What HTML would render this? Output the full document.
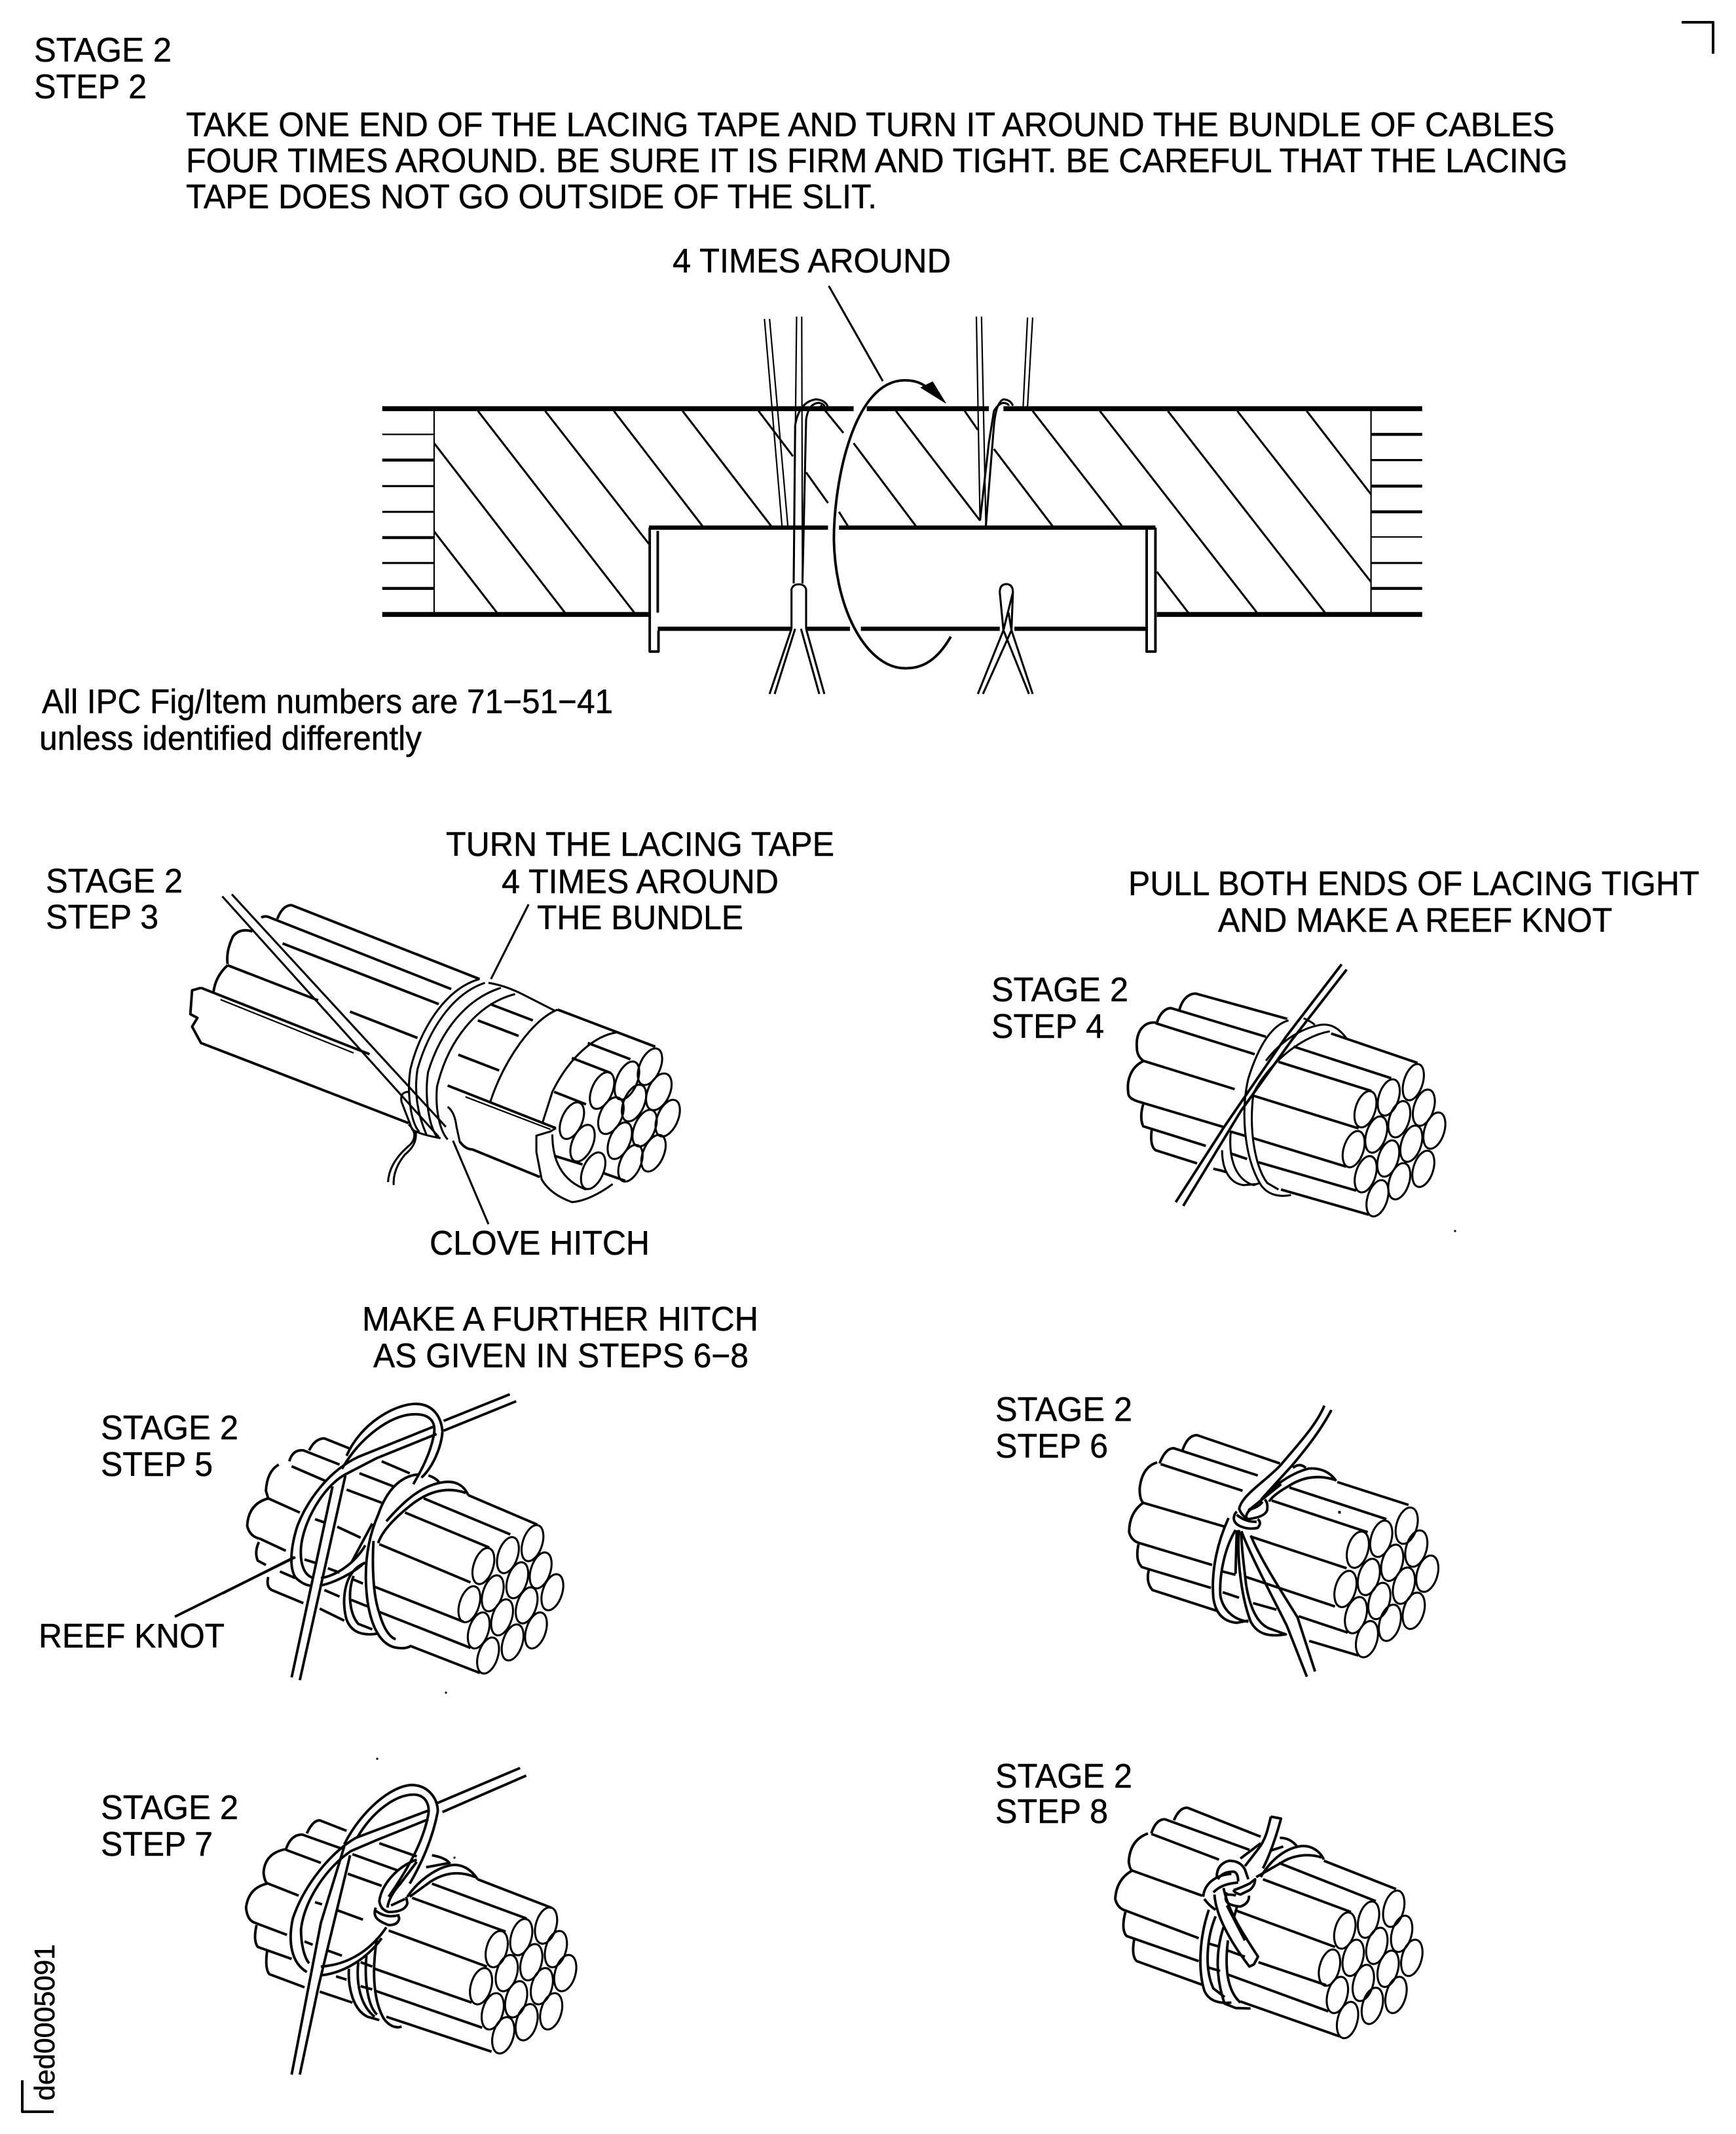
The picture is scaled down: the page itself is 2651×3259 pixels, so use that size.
<!DOCTYPE html>
<html><head><meta charset="utf-8"><style>
html,body{margin:0;padding:0;background:#fff}
svg{display:block}
text{font-family:"Liberation Sans",sans-serif;font-size:52px;fill:#000;stroke:#000;stroke-width:.5}
path,ellipse{fill:none;stroke:#000;stroke-width:3.1;vector-effect:non-scaling-stroke;stroke-linejoin:round}
.t{stroke-width:2.2}.b{stroke-width:7.5}.m{stroke-width:3.9}
.f{fill:#000;stroke-width:1}
</style></head><body>
<svg xmlns="http://www.w3.org/2000/svg" width="2651" height="3259" viewBox="0 0 2651 3259">
<rect width="2651" height="3259" fill="#fff"/>
<g>
<text x="52" y="94" textLength="210" lengthAdjust="spacingAndGlyphs">STAGE 2</text>
<text x="52" y="150" textLength="172" lengthAdjust="spacingAndGlyphs">STEP 2</text>
<text x="284" y="208" textLength="2090" lengthAdjust="spacingAndGlyphs">TAKE ONE END OF THE LACING TAPE AND TURN IT AROUND THE BUNDLE OF CABLES</text>
<text x="284" y="263" textLength="2110" lengthAdjust="spacingAndGlyphs">FOUR TIMES AROUND. BE SURE IT IS FIRM AND TIGHT. BE CAREFUL THAT THE LACING</text>
<text x="284" y="318" textLength="1055" lengthAdjust="spacingAndGlyphs">TAPE DOES NOT GO OUTSIDE OF THE SLIT.</text>
<text x="1027" y="416" textLength="425" lengthAdjust="spacingAndGlyphs">4 TIMES AROUND</text>
<text x="64" y="1089" textLength="872" lengthAdjust="spacingAndGlyphs">All IPC Fig/Item numbers are 71−51−41</text>
<text x="60" y="1145" textLength="584" lengthAdjust="spacingAndGlyphs">unless identified differently</text>
<text x="681" y="1307" textLength="593" lengthAdjust="spacingAndGlyphs">TURN THE LACING TAPE</text>
<text x="766" y="1364" textLength="423" lengthAdjust="spacingAndGlyphs">4 TIMES AROUND</text>
<text x="820" y="1419" textLength="315" lengthAdjust="spacingAndGlyphs">THE BUNDLE</text>
<text x="70" y="1363" textLength="209" lengthAdjust="spacingAndGlyphs">STAGE 2</text>
<text x="70" y="1418" textLength="172" lengthAdjust="spacingAndGlyphs">STEP 3</text>
<text x="1723" y="1367" textLength="872" lengthAdjust="spacingAndGlyphs">PULL BOTH ENDS OF LACING TIGHT</text>
<text x="1860" y="1423" textLength="602" lengthAdjust="spacingAndGlyphs">AND MAKE A REEF KNOT</text>
<text x="1514" y="1529" textLength="209" lengthAdjust="spacingAndGlyphs">STAGE 2</text>
<text x="1514" y="1585" textLength="172" lengthAdjust="spacingAndGlyphs">STEP 4</text>
<text x="656" y="1916" textLength="336" lengthAdjust="spacingAndGlyphs">CLOVE HITCH</text>
<text x="553" y="2032" textLength="605" lengthAdjust="spacingAndGlyphs">MAKE A FURTHER HITCH</text>
<text x="570" y="2088" textLength="573" lengthAdjust="spacingAndGlyphs">AS GIVEN IN STEPS 6−8</text>
<text x="154" y="2198" textLength="210" lengthAdjust="spacingAndGlyphs">STAGE 2</text>
<text x="154" y="2254" textLength="171" lengthAdjust="spacingAndGlyphs">STEP 5</text>
<text x="1520" y="2170" textLength="209" lengthAdjust="spacingAndGlyphs">STAGE 2</text>
<text x="1520" y="2226" textLength="172" lengthAdjust="spacingAndGlyphs">STEP 6</text>
<text x="59" y="2516" textLength="284" lengthAdjust="spacingAndGlyphs">REEF KNOT</text>
<text x="154" y="2778" textLength="210" lengthAdjust="spacingAndGlyphs">STAGE 2</text>
<text x="154" y="2834" textLength="171" lengthAdjust="spacingAndGlyphs">STEP 7</text>
<text x="1520" y="2730" textLength="209" lengthAdjust="spacingAndGlyphs">STAGE 2</text>
<text x="1520" y="2784" textLength="172" lengthAdjust="spacingAndGlyphs">STEP 8</text>
<text transform="translate(83,3208) rotate(-90)" textLength="239" lengthAdjust="spacingAndGlyphs" style="font-size:44px">ded0005091</text>
</g>
<path class="m" d="M34 3177V3225H82M2568 34H2616V82" style="stroke-width:4"/>
<path class="m" d="M267 2469L451 2378"/>
<path class="f" d="M2221 1879h2v2h-2zM680 2584h2v2h-2zM2044 2308h3v3h-3zM575 2685h2v2h-2zM693 2836h2v2h-2z"/>

<!-- Step 2 section -->
<g transform="translate(500,400) scale(1.116,.4464)">
<path class="b" d="M75 502H720M738 502H905M925 502H1498M75 1206H440M1135 1206H1498"/>
<path class="t" d="M146 502V1206M1428 502V1206"/>
<path class="t" d="M75 590H146M1428 941H1498"/>
<path class="b" style="stroke-width:4.5" d="M75 678H146M75 943H146M75 1117H146M1428 590H1498M1428 767H1498M1428 855H1498M1428 1117H1498"/>
<path class="m" style="stroke-width:3.2" d="M75 767H146M75 855H146M75 1030H146M1428 678H1498M1428 1030H1498"/>
<path d="M146 620L325 1200M146 922L232 1200M206 510L420 1200M298 510L440 965M392 510L513 903M486 510L607 903M590 510L637 665M655 720L685 825M700 855L712 903M675 490L706 585M720 620L805 903M778 510L893 885M872 510L890 575M912 640L992 903M965 510L1087 903M1135 1060L1178 1200M1057 510L1272 1200M1150 510L1365 1200M1245 510L1428 1095M1340 510L1428 795"/>
<path class="b" style="stroke-width:6.5" d="M440 909H685M700 909H1133M452 1255H635M655 1255H715M730 1255H920M940 1255H1120"/>
<path class="m" d="M441 909V1333H453V1262M1133 909V1333H1121V909M452 920V1200"/>
<path class="t" d="M598 195L622 903M605 195L630 903M642 187L638 1100M649 187L650 1100M888 187L893 885M895 187L901 903M958 190L952 495M965 190L958 495"/>
<path d="M638 1100L640 560Q645 480 668 470Q682 472 685 498M650 1100L655 540Q658 485 672 482Q680 486 680 495M635 1255V1120Q637 1103 645 1103Q653 1103 655 1120V1255M635 1255L605 1478M640 1255L612 1478M655 1255L680 1478M648 1255L673 1478"/>
<path d="M901 903L912 560Q915 480 925 470Q935 472 938 492M893 885L905 620L912 510Q918 485 925 482Q932 484 932 492M920 1130Q920 1103 929 1102Q938 1103 938 1130L936 1260L965 1478M920 1130L925 1260L960 1478M938 1130L925 1260L890 1478M932 1200L936 1260L897 1478"/>
<path class="m" d="M853 1282C835 1360 815 1392 790 1390C740 1390 695 1200 693 950C693 750 720 405 790 405C805 405 815 415 825 440"/>
<path class="f" d="M846 483L812 430L828 410Z"/>
<path d="M686 82L760 408"/>
</g>

<!-- Step 3 -->
<g transform="translate(250,1300) scale(.542,.3827)">
<path d="M165 180L775 1140M192 172L795 1100"/>
<path class="m" d="M320 270Q335 215 360 215L890 510M275 265Q285 255 300 265L810 550M335 368L775 610M525 640L715 745M250 320Q215 305 195 340Q175 400 180 450M180 455Q145 500 140 565M180 455L435 595M105 545L80 555L75 650L95 665L80 700L105 765L690 1085M105 545L580 810"/>
<path class="t" d="M160 592L535 805M850 980L1090 1110"/>
<path d="M890 510C790 550 720 720 695 870C685 960 695 1080 720 1120M905 525C810 570 745 720 715 870C705 960 715 1050 740 1130M950 545C850 590 780 720 745 880C735 970 745 1090 770 1140M990 570C880 610 800 760 770 940C765 1020 775 1110 800 1150M915 525Q960 535 1010 570L1100 635"/>
<path class="m" d="M1110 632L1385 780M920 610L1040 675M885 675L1000 737M830 812L945 875M800 935L1105 1105M1195 765L1315 830M1150 825L1260 885M1100 960L1190 1010M1100 1215L1180 1250M1240 1285L1300 1315M835 1160Q850 1190 870 1190L1060 1300"/>
<path d="M1110 632C1040 670 960 830 920 1000M1280 722C1210 735 1140 830 1095 960L1068 1080M1105 1105L1090 1118L1050 1135L1050 1200L1065 1310Q1090 1370 1150 1400Q1200 1395 1265 1328M1095 1130Q1095 1300 1190 1350"/>
<path d="M690 1090Q720 1130 695 1170Q635 1240 632 1320M710 1120Q715 1170 680 1210Q645 1270 648 1332M690 960Q665 960 670 1000L700 1110Q720 1130 780 1145M800 1020Q820 1040 825 1100L835 1165M1028 212L922 510M815 1155L915 1488"/>
<g><ellipse cx="1370" cy="860" rx="30" ry="75" transform="rotate(14 1370 860)"/><ellipse cx="1305" cy="915" rx="30" ry="78" transform="rotate(14 1305 915)"/><ellipse cx="1235" cy="955" rx="30" ry="75" transform="rotate(14 1235 955)"/><ellipse cx="1395" cy="960" rx="32" ry="75" transform="rotate(14 1395 960)"/><ellipse cx="1325" cy="1005" rx="30" ry="75" transform="rotate(14 1325 1005)"/><ellipse cx="1260" cy="1055" rx="32" ry="75" transform="rotate(14 1260 1055)"/><ellipse cx="1420" cy="1065" rx="30" ry="75" transform="rotate(14 1420 1065)"/><ellipse cx="1355" cy="1105" rx="30" ry="75" transform="rotate(14 1355 1105)"/><ellipse cx="1285" cy="1155" rx="30" ry="75" transform="rotate(14 1285 1155)"/><ellipse cx="1150" cy="1075" rx="30" ry="75" transform="rotate(14 1150 1075)"/><ellipse cx="1180" cy="1165" rx="30" ry="75" transform="rotate(14 1180 1165)"/><ellipse cx="1380" cy="1205" rx="30" ry="75" transform="rotate(14 1380 1205)"/><ellipse cx="1315" cy="1245" rx="30" ry="75" transform="rotate(14 1315 1245)"/><ellipse cx="1210" cy="1275" rx="30" ry="75" transform="rotate(14 1210 1275)"/></g>
</g>

<!-- Step 4 -->
<g transform="translate(1650,1430) scale(.3827,.3333)">
<g><ellipse cx="1328" cy="668" rx="38" ry="85" transform="rotate(14 1328 668)"/><ellipse cx="1230" cy="738" rx="40" ry="85" transform="rotate(14 1230 738)"/><ellipse cx="1137" cy="792" rx="40" ry="85" transform="rotate(14 1137 792)"/><ellipse cx="1370" cy="785" rx="40" ry="85" transform="rotate(14 1370 785)"/><ellipse cx="1272" cy="838" rx="40" ry="85" transform="rotate(14 1272 838)"/><ellipse cx="1180" cy="908" rx="40" ry="85" transform="rotate(14 1180 908)"/><ellipse cx="1090" cy="975" rx="40" ry="85" transform="rotate(14 1090 975)"/><ellipse cx="1412" cy="890" rx="40" ry="85" transform="rotate(14 1412 890)"/><ellipse cx="1320" cy="950" rx="40" ry="85" transform="rotate(14 1320 950)"/><ellipse cx="1228" cy="1018" rx="40" ry="85" transform="rotate(14 1228 1018)"/><ellipse cx="1138" cy="1090" rx="40" ry="85" transform="rotate(14 1138 1090)"/><ellipse cx="1368" cy="1065" rx="40" ry="85" transform="rotate(14 1368 1065)"/><ellipse cx="1272" cy="1122" rx="40" ry="85" transform="rotate(14 1272 1122)"/><ellipse cx="1185" cy="1200" rx="40" ry="85" transform="rotate(14 1185 1200)"/></g>
<path class="m" d="M395 335C410 275 440 262 460 262L825 378M305 395C320 340 350 325 365 330L740 460M300 398L695 540M300 395C250 390 220 440 225 510C225 545 240 560 250 570L615 700M250 572C200 600 185 660 190 710C190 740 205 745 225 755L575 875M250 770Q235 830 250 870L500 960M285 880Q275 960 300 980L465 1040M530 1065Q570 1075 580 1080M1000 445L1345 580M850 505L1240 650M790 575L1160 708M690 730L1110 880M690 925L1060 1055M600 895L660 915M600 995L665 1020M710 1035L1100 1165M800 1160L1150 1275"/>
<path class="m" d="M1042 128L820 460L575 870L380 1218M1062 152L840 480L640 800L410 1235"/>
<path d="M830 385C750 410 700 540 670 650C640 790 650 1000 715 1130C745 1190 800 1195 840 1185M995 435C870 460 740 600 690 720C670 900 700 1060 745 1130L790 1160M1060 465C1030 420 1000 400 960 405C880 420 800 480 740 570M600 890C590 1000 610 1110 690 1140L715 1130M565 980C565 1060 590 1130 650 1140L700 1135M890 375Q920 390 935 405"/>
</g>

<!-- Step 5 -->
<g transform="translate(340,2100) scale(.3571,.3333)">
<g><ellipse cx="1325" cy="770" rx="42" ry="85" transform="rotate(16 1325 770)"/><ellipse cx="1220" cy="825" rx="42" ry="85" transform="rotate(16 1220 825)"/><ellipse cx="1115" cy="875" rx="42" ry="85" transform="rotate(16 1115 875)"/><ellipse cx="1360" cy="895" rx="42" ry="85" transform="rotate(16 1360 895)"/><ellipse cx="1260" cy="940" rx="42" ry="85" transform="rotate(16 1260 940)"/><ellipse cx="1155" cy="1000" rx="42" ry="85" transform="rotate(16 1155 1000)"/><ellipse cx="1055" cy="1050" rx="42" ry="85" transform="rotate(16 1055 1050)"/><ellipse cx="1410" cy="995" rx="42" ry="85" transform="rotate(16 1410 995)"/><ellipse cx="1300" cy="1055" rx="42" ry="85" transform="rotate(16 1300 1055)"/><ellipse cx="1195" cy="1110" rx="42" ry="85" transform="rotate(16 1195 1110)"/><ellipse cx="1095" cy="1170" rx="42" ry="85" transform="rotate(16 1095 1170)"/><ellipse cx="1340" cy="1170" rx="42" ry="85" transform="rotate(16 1340 1170)"/><ellipse cx="1240" cy="1225" rx="42" ry="85" transform="rotate(16 1240 1225)"/><ellipse cx="1135" cy="1285" rx="42" ry="85" transform="rotate(16 1135 1285)"/></g>
<path class="m" d="M370 345Q395 290 435 290L540 335M680 395L800 450M285 395Q300 340 345 345L500 410M295 418L440 485M585 450L730 510M240 410Q190 440 185 530L195 565L330 630M530 525L680 585M195 565Q110 590 105 690Q115 740 160 750L270 805M395 660L435 675M490 695L590 745M155 765Q135 810 150 850L185 870M245 900L310 930M195 925Q185 970 210 985L345 1045M350 845L395 860M450 885L500 905M435 985L500 1015M415 1070L520 1125M555 935L600 955M550 1030L620 1060M1050 550L1345 685M860 565L1230 730M780 630L1140 790M670 775L1060 950M650 970L1030 1130M670 1085L1060 1250M800 1240L1100 1365"/>
<path class="m" d="M945 210L1228 88M945 255L1255 120M0 1000L305 835M530 370C590 220 740 130 830 132C900 135 935 190 940 260C935 330 900 420 850 470M510 430C590 280 720 185 810 180C870 175 910 200 905 260C895 340 860 420 815 500M905 235L580 375C450 440 360 580 320 690C290 790 285 880 310 925C330 950 360 965 380 965M915 270L660 380L525 455C430 510 345 670 335 790C330 870 350 920 390 930M420 930C480 920 560 870 610 780M415 965C490 950 580 890 605 860M295 1385L470 510M330 1398L525 460M840 455C760 460 700 530 665 640C620 750 600 880 620 1040C640 1180 690 1245 750 1250C780 1255 800 1245 805 1240M645 760C640 850 640 1000 670 1090C690 1170 720 1205 740 1210M1050 550C1030 500 990 485 950 490C860 500 780 570 700 670M1040 540C960 510 880 530 800 600C730 660 680 720 665 770M610 860C510 900 510 1050 530 1120C550 1180 600 1195 660 1185M560 920C535 990 540 1090 580 1140L640 1165M880 460Q910 470 925 490M550 860L640 680"/>
</g>

<!-- Step 6 -->
<g transform="translate(1660,2120) scale(.3571,.3333)">
<g><ellipse cx="1367" cy="630" rx="44" ry="85" transform="rotate(14 1367 630)"/><ellipse cx="1258" cy="690" rx="44" ry="85" transform="rotate(14 1258 690)"/><ellipse cx="1158" cy="740" rx="44" ry="85" transform="rotate(14 1158 740)"/><ellipse cx="1408" cy="735" rx="44" ry="85" transform="rotate(14 1408 735)"/><ellipse cx="1305" cy="800" rx="44" ry="85" transform="rotate(14 1305 800)"/><ellipse cx="1205" cy="865" rx="44" ry="85" transform="rotate(14 1205 865)"/><ellipse cx="1105" cy="920" rx="44" ry="85" transform="rotate(14 1105 920)"/><ellipse cx="1455" cy="850" rx="44" ry="85" transform="rotate(14 1455 850)"/><ellipse cx="1355" cy="905" rx="44" ry="85" transform="rotate(14 1355 905)"/><ellipse cx="1250" cy="975" rx="44" ry="85" transform="rotate(14 1250 975)"/><ellipse cx="1150" cy="1040" rx="44" ry="85" transform="rotate(14 1150 1040)"/><ellipse cx="1397" cy="1020" rx="44" ry="85" transform="rotate(14 1397 1020)"/><ellipse cx="1295" cy="1075" rx="44" ry="85" transform="rotate(14 1295 1075)"/><ellipse cx="1197" cy="1150" rx="44" ry="85" transform="rotate(14 1197 1150)"/></g>
<path class="m" d="M408 285Q430 215 470 215L825 345M310 345Q335 275 370 275L730 400M315 348L665 470M300 340Q235 360 225 460Q225 510 240 525L590 635M240 525Q180 570 180 660Q190 700 225 710L535 810M220 715Q205 790 235 820L530 915M265 830Q250 890 280 925L555 1020M1070 430L1375 535M865 455L1280 600M790 515L1200 660M700 680L1110 825M680 865L1060 1000M905 1045L1115 1120M950 1158L1160 1225M710 985L810 1015M580 840L635 855M580 935L650 960"/>
<path class="m" d="M1015 80C980 170 900 260 830 350C760 430 660 490 650 555M1045 100C1000 190 950 260 880 350L770 480M880 365Q910 340 935 365M1065 425C1040 385 1000 365 950 368C880 385 790 450 745 510M1060 420C1000 400 930 400 860 450C810 480 780 510 780 520M830 440L690 560M650 550Q660 585 690 600Q760 590 770 560Q775 525 760 510M680 595Q680 570 700 555Q740 540 750 520M640 565C620 590 625 615 650 630Q690 650 730 640C745 620 740 610 730 600M640 580Q680 615 725 612M605 595C560 700 530 830 540 960C550 1040 590 1070 640 1075L690 1065M635 650C590 730 565 850 570 950C580 1010 620 1060 690 1070M640 650L635 850M650 650C640 780 660 960 700 1070C730 1130 780 1140 850 1128L790 1105C740 1090 700 1030 680 900C670 800 660 730 660 660M660 655C700 770 800 970 855 1090L940 1322M700 675C740 780 830 930 900 1050L975 1298"/>
</g>

<!-- Step 7 -->
<g transform="translate(340,2670) scale(.3571,.3333)">
<g><ellipse cx="1383" cy="812" rx="44" ry="85" transform="rotate(14 1383 812)"/><ellipse cx="1277" cy="865" rx="44" ry="85" transform="rotate(14 1277 865)"/><ellipse cx="1172" cy="920" rx="44" ry="85" transform="rotate(14 1172 920)"/><ellipse cx="1425" cy="920" rx="44" ry="85" transform="rotate(14 1425 920)"/><ellipse cx="1320" cy="980" rx="44" ry="85" transform="rotate(14 1320 980)"/><ellipse cx="1215" cy="1030" rx="44" ry="85" transform="rotate(14 1215 1030)"/><ellipse cx="1105" cy="1090" rx="44" ry="85" transform="rotate(14 1105 1090)"/><ellipse cx="1465" cy="1030" rx="44" ry="85" transform="rotate(14 1465 1030)"/><ellipse cx="1365" cy="1090" rx="44" ry="85" transform="rotate(14 1365 1090)"/><ellipse cx="1255" cy="1150" rx="44" ry="85" transform="rotate(14 1255 1150)"/><ellipse cx="1155" cy="1205" rx="44" ry="85" transform="rotate(14 1155 1205)"/><ellipse cx="1405" cy="1205" rx="44" ry="85" transform="rotate(14 1405 1205)"/><ellipse cx="1300" cy="1255" rx="44" ry="85" transform="rotate(14 1300 1255)"/><ellipse cx="1200" cy="1315" rx="44" ry="85" transform="rotate(14 1200 1315)"/></g>
<path class="m" d="M360 390Q385 330 415 330L530 378M670 435L830 495M270 465Q290 395 340 395L510 460M555 485L750 560M270 462Q180 480 175 570Q178 605 190 620M270 465L420 525M535 575L680 630M190 618L325 675M190 620Q110 640 100 730Q105 790 140 800L275 855M395 705L425 715M485 740L600 785M145 810Q130 880 150 910L295 965M190 930Q180 1010 200 1035L350 1095M350 885L385 900M445 925L510 950M485 1045L530 1060M415 1115L555 1165M1090 600L1405 730M895 620L1300 780M810 685L1210 840M710 835L1130 1000M650 1010L1065 1165M650 1110L1110 1280M700 1230L1150 1390M590 980L640 1000M590 1090L640 1105"/>
<path class="m" d="M920 250L1272 90M940 292L1298 125M520 440C590 290 720 170 810 168C880 170 920 230 920 290C900 400 860 510 800 620M575 410C640 290 740 210 820 212C870 215 885 260 880 300C860 420 800 540 710 680M880 285L570 410C470 470 350 620 300 780C280 880 290 980 360 1025M880 325L660 420L550 470C450 540 350 690 335 830C335 900 350 960 370 985M295 1495L420 800L520 450M330 1495L410 1090L545 490M830 510C750 540 680 620 670 700Q675 740 710 750Q780 750 790 710L785 680M705 730Q710 680 760 620L830 520M720 720L780 690M655 730C640 770 660 790 710 810Q750 810 755 780L750 760M655 745Q700 780 750 765M1090 600C1060 550 1020 530 980 535C920 545 840 600 790 680M1080 590C1010 560 950 570 890 610L800 680M895 490Q950 500 970 525L870 545M700 820C650 900 560 990 420 1000M680 870C620 960 520 1030 420 1040M540 1010C535 1100 560 1200 620 1230L670 1245M580 980C570 1080 590 1180 650 1230M615 950C605 1060 620 1180 660 1220M660 870C640 1000 640 1150 690 1240C710 1270 740 1285 765 1275"/>
</g>

<!-- Step 8 -->
<g transform="translate(1660,2730) scale(.3444,.3333)">
<g><ellipse cx="1360" cy="555" rx="44" ry="85" transform="rotate(14 1360 555)"/><ellipse cx="1248" cy="605" rx="44" ry="85" transform="rotate(14 1248 605)"/><ellipse cx="1143" cy="655" rx="44" ry="85" transform="rotate(14 1143 655)"/><ellipse cx="1395" cy="670" rx="44" ry="85" transform="rotate(14 1395 670)"/><ellipse cx="1285" cy="725" rx="44" ry="85" transform="rotate(14 1285 725)"/><ellipse cx="1180" cy="780" rx="44" ry="85" transform="rotate(14 1180 780)"/><ellipse cx="1075" cy="825" rx="44" ry="85" transform="rotate(14 1075 825)"/><ellipse cx="1440" cy="780" rx="44" ry="85" transform="rotate(14 1440 780)"/><ellipse cx="1335" cy="830" rx="44" ry="85" transform="rotate(14 1335 830)"/><ellipse cx="1225" cy="895" rx="44" ry="85" transform="rotate(14 1225 895)"/><ellipse cx="1110" cy="950" rx="44" ry="85" transform="rotate(14 1110 950)"/><ellipse cx="1370" cy="950" rx="44" ry="85" transform="rotate(14 1370 950)"/><ellipse cx="1265" cy="1000" rx="44" ry="85" transform="rotate(14 1265 1000)"/><ellipse cx="1155" cy="1065" rx="44" ry="85" transform="rotate(14 1155 1065)"/></g>
<path class="m" d="M385 150Q410 90 445 92L770 225M285 210Q305 145 345 145L720 285M285 212L585 330M270 210Q190 240 185 340Q190 375 200 380L510 495M200 380Q130 420 125 510Q135 555 175 565L495 690M170 570Q150 650 175 680L495 795M210 690Q195 770 220 795L515 905M1050 335L1370 465M850 345L1280 520M780 420L1170 570M665 565L1100 730M620 745L700 775M760 800L1060 905M620 855L1070 1025M680 980L1120 1140M540 715L590 730M540 825L590 840"/>
<path class="m" d="M815 133L860 142C840 220 810 310 780 370M815 133C800 200 790 240 760 280L700 360M680 325L770 255M855 230Q900 230 930 268M1050 330C1030 285 990 265 950 268C890 275 820 320 770 410M1040 320C980 300 910 310 860 345L750 410M870 270Q840 280 810 290M575 410Q575 350 630 335Q680 335 700 375L715 420M580 420Q600 385 650 385Q670 390 670 430M515 500C520 440 570 400 640 395M520 510Q540 540 570 560M560 480C590 450 620 440 670 435M650 470Q680 460 720 440L745 420Q745 450 720 470L680 490Q650 480 650 470M620 480C605 520 620 540 680 545Q720 530 718 495M620 490Q650 490 660 495M565 490C570 580 630 700 720 820L740 810L758 775C700 680 630 580 605 460M620 540L700 700M665 545L650 600M540 560C500 680 490 830 520 930C540 980 590 990 640 985M570 590C530 690 520 830 560 920L610 960M605 640C570 750 570 870 610 990L660 1010L725 1012M625 700C610 820 620 930 680 985"/>
</g>
</svg>
</body></html>
